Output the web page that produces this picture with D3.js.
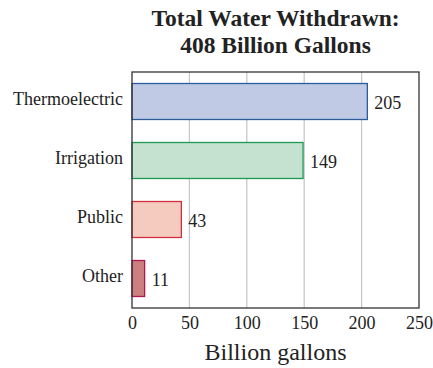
<!DOCTYPE html>
<html><head><meta charset="utf-8">
<script src="https://cdn.jsdelivr.net/npm/d3@7"></script>
<style>body{margin:0;background:#fff}svg{display:block}</style>
</head><body>
<script>
const categories = ["Thermoelectric", "Irrigation", "Public", "Other"];
const values = [205, 149, 43, 11];
const fills = ["#c0cae4", "#c5e1d0", "#f5cbbf", "#cc7f7f"];
const strokes = ["#2b5c9c", "#1d9a52", "#d12f3d", "#b01651"];
const xTicks = [0, 50, 100, 150, 200, 250];
const titleLines = ["Total Water Withdrawn:", "408 Billion Gallons"];
const xTitle = "Billion gallons";

const W = 433, H = 368;
const m = {left: 132, right: 14, top: 72, bottom: 60};
const svg = d3.select("body").append("svg").attr("width", W).attr("height", H);
const font = "Liberation Serif, Times New Roman, serif";

const x = d3.scaleLinear().domain([0, 250]).range([m.left, W - m.right]);
const y = d3.scaleBand().domain(categories).range([m.top, H - m.bottom]).paddingInner(0.39).paddingOuter(0.195);

// gridlines
svg.append("g").selectAll("line").data(xTicks.slice(1, -1)).join("line")
  .attr("x1", d => x(d)).attr("x2", d => x(d))
  .attr("y1", m.top).attr("y2", H - m.bottom)
  .attr("stroke", "#c8c8c8").attr("stroke-width", 1.3);

// bars
svg.append("g").selectAll("rect").data(categories).join("rect")
  .attr("x", x(0)).attr("y", d => y(d))
  .attr("width", (d, i) => x(values[i]) - x(0))
  .attr("height", y.bandwidth())
  .attr("fill", (d, i) => fills[i])
  .attr("stroke", (d, i) => strokes[i]).attr("stroke-width", 1.3);

// frame
svg.append("rect").attr("x", m.left).attr("y", m.top)
  .attr("width", W - m.right - m.left).attr("height", H - m.bottom - m.top)
  .attr("fill", "none").attr("stroke", "#333").attr("stroke-width", 1.3);

// value labels
svg.append("g").selectAll("text").data(categories).join("text")
  .attr("x", (d, i) => x(values[i]) + 7)
  .attr("y", d => y(d) + y.bandwidth() / 2 + 7)
  .attr("font-family", font).attr("font-size", 18).attr("fill", "#222")
  .text((d, i) => values[i]);

// y axis labels
const yAxis = d3.axisLeft(y).tickSize(0).tickPadding(9);
const gy = svg.append("g").attr("transform", `translate(${m.left},0)`).call(yAxis);
gy.select(".domain").remove();
gy.selectAll("text").attr("font-family", font).attr("font-size", 18).attr("fill", "#222").attr("dy", "0.2em");

// x axis labels
const xAxis = d3.axisBottom(x).tickValues(xTicks).tickSize(0).tickPadding(8);
const gx = svg.append("g").attr("transform", `translate(0,${H - m.bottom})`).call(xAxis);
gx.select(".domain").remove();
gx.selectAll("text").attr("font-family", font).attr("font-size", 18).attr("fill", "#222");

// axis title
svg.append("text").attr("x", (m.left + W - m.right) / 2).attr("y", 360)
  .attr("text-anchor", "middle").attr("font-family", font).attr("font-size", 24).attr("fill", "#222")
  .text(xTitle);

// title
svg.append("g").selectAll("text").data(titleLines).join("text")
  .attr("x", (m.left + W - m.right) / 2).attr("y", (d, i) => 26 + i * 27)
  .attr("text-anchor", "middle").attr("font-family", font).attr("font-weight", "bold")
  .attr("font-size", 23.5).attr("fill", "#222").text(d => d);
</script>
</body></html>
